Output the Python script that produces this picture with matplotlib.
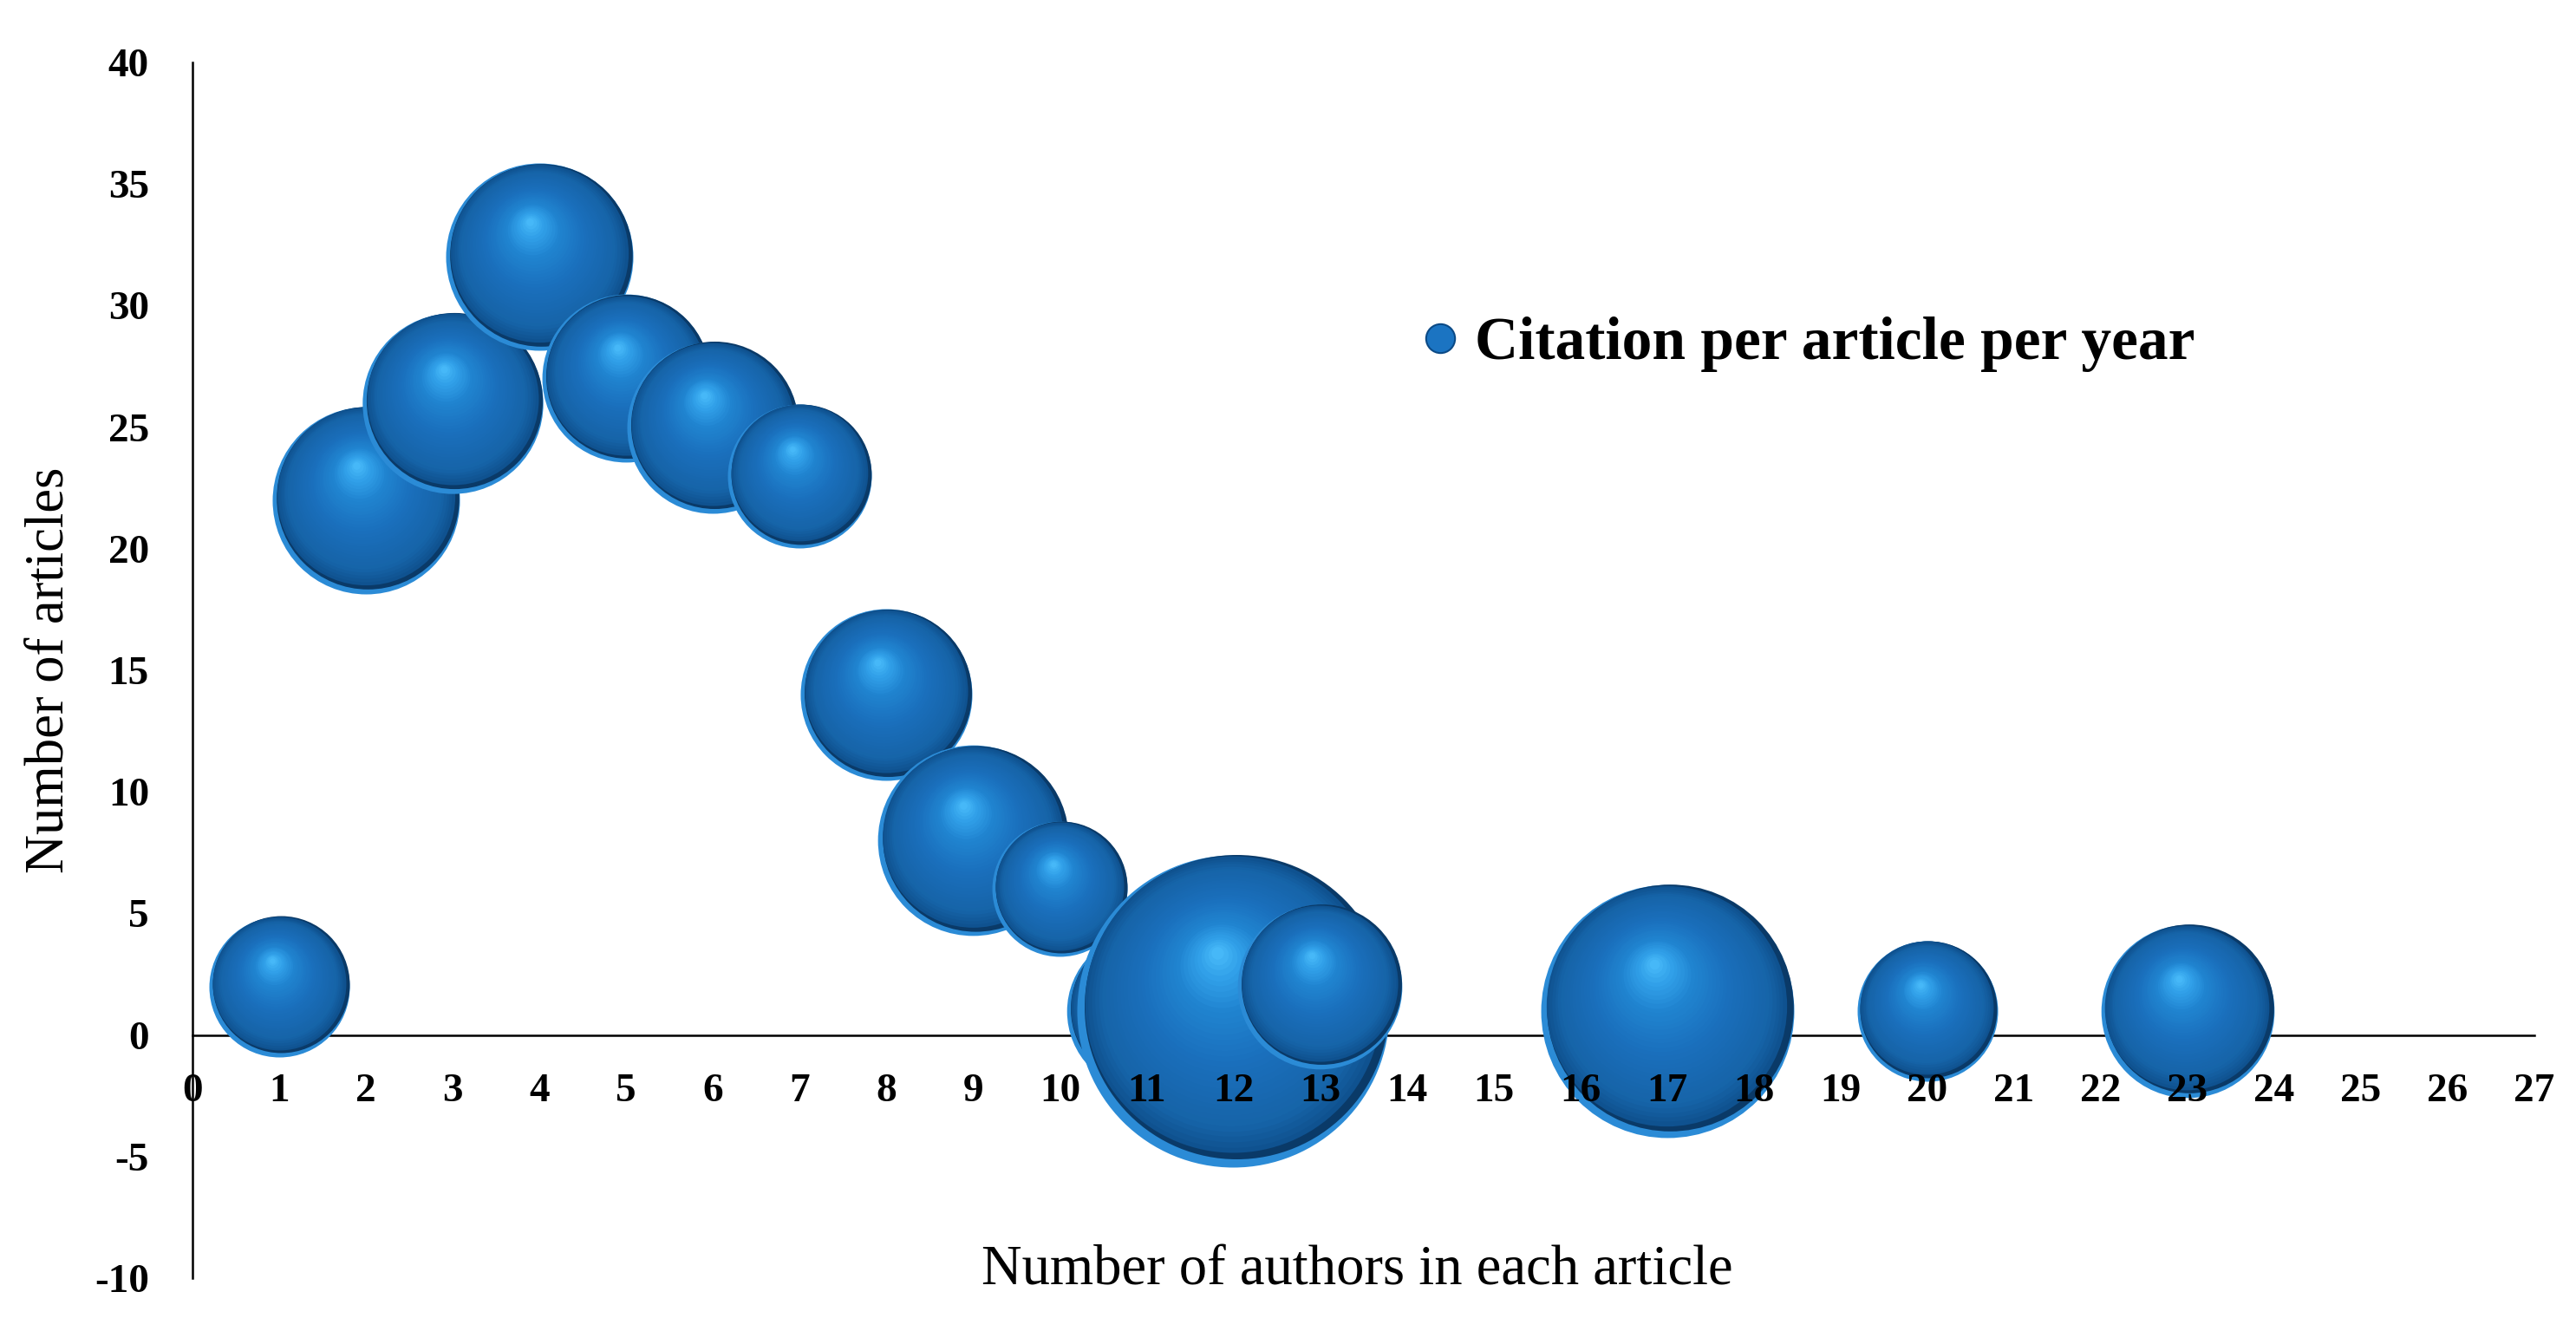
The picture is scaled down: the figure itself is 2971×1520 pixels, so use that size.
import numpy as np
import matplotlib
matplotlib.use("Agg")
import matplotlib.pyplot as plt
from matplotlib.transforms import ScaledTranslation
from matplotlib.lines import Line2D
from matplotlib.colors import LinearSegmentedColormap

# ---------------- data ----------------
authors = [1, 2, 3, 4, 5, 6, 7, 8, 9, 10, 11, 12, 13, 17, 20, 23]
articles = [2, 22, 26, 32, 27, 25, 23, 14, 8, 6, 1, 1, 2, 1, 1, 1]
citations = [8.1, 14.4, 13.4, 14.4, 11.6, 12.1, 8.5, 12.1, 14.9, 7.5,
             10.4, 40.0, 11.1, 26.3, 8.1, 12.3]
x_ticks = list(range(0, 28))
y_ticks = list(range(-10, 41, 5))
series_name = "Citation per article per year"
x_title = "Number of authors in each article"
y_title = "Number of articles"

# ---------------- style ----------------
SERIF = ["Liberation Serif", "DejaVu Serif"]
plt.rcParams["font.family"] = SERIF
DPI = 100
fig = plt.figure(figsize=(29.71, 15.2), dpi=DPI)
ax = fig.add_axes([0.07472, 0.03026, 0.9091, 0.9224])
ax.set_xlim(0, 27)
ax.set_ylim(-10, 40)

R_MAX_PX = 180.0  # pixel radius of the largest bubble

shade = LinearSegmentedColormap.from_list(
    "sphere",
    [(0.0, "#0f5290"), (0.12, "#1664a8"), (0.45, "#1a6fbc"),
     (0.72, "#2084d0"), (0.90, "#32a2ea"), (1.0, "#46b8f8")])


def sphere(x, y, r, z):
    def tr(dx, dy):
        return ax.transData + ScaledTranslation(dx / DPI, dy / DPI,
                                                fig.dpi_scale_trans)

    def size(rad):
        return (2 * rad * 72.0 / DPI) ** 2

    # light reflection rim at the bottom-left
    ax.scatter([x], [y], s=size(r), color="#2b8bd6", linewidths=0,
               transform=tr(0, 0), zorder=z)
    # dark shadow edge (mostly on the right)
    ax.scatter([x], [y], s=size(r * 0.975), color="#0a3a68", linewidths=0,
               transform=tr(r * 0.02, r * 0.025), zorder=z + 0.0001)
    n = 36
    x0, y0, r0 = -0.005 * r, 0.04 * r, 0.95 * r
    hx, hy, hr = -0.10 * r, 0.37 * r, 0.04 * r
    for k in range(n + 1):
        t = k / n
        rad = r0 + (hr - r0) * t
        cx = x0 + (hx - x0) * t
        cy = y0 + (hy - y0) * t
        ax.scatter([x], [y], s=size(rad), color=shade(t),
                   linewidths=0, transform=tr(cx, cy),
                   zorder=z + 0.0001 * (k + 2))


cmax = max(citations)
for i, (xa, ya, c) in enumerate(zip(authors, articles, citations)):
    r = R_MAX_PX * np.sqrt(c / cmax)
    sphere(xa, ya, r, 1.0 + i * 0.05)

# ---------------- axes ----------------
for s in ("top", "right"):
    ax.spines[s].set_visible(False)
ax.spines["bottom"].set_position(("data", 0))
for s in ("bottom", "left"):
    ax.spines[s].set_linewidth(1.8)
    ax.spines[s].set_color("black")
    ax.spines[s].set_zorder(0.5)

ax.set_xticks(x_ticks)
ax.set_xticklabels([str(v) for v in x_ticks])
ax.set_yticks(y_ticks)
ax.set_yticklabels([str(v) for v in y_ticks])
ax.tick_params(axis="x", length=0, pad=32, labelsize=34)
ax.tick_params(axis="y", length=0, pad=36, labelsize=34)
for lab in ax.get_xticklabels() + ax.get_yticklabels():
    lab.set_fontweight("bold")
ax.xaxis.set_zorder(3)
ax.yaxis.set_zorder(3)

ax.set_xlabel(x_title, fontsize=46.5, va="center")
ax.xaxis.set_label_coords(0.4975, 0.006)
ax.set_ylabel(y_title, fontsize=45, va="center")
ax.yaxis.set_label_coords(-0.061, 0.5)

handle = Line2D([], [], linestyle="none", marker="o", markersize=24,
                markerfacecolor="#1b74c2", markeredgecolor="#0b4a86",
                markeredgewidth=1.5)
leg = ax.legend([handle], [series_name], loc="center left",
                bbox_to_anchor=(0.5527, 0.7385),
                bbox_transform=fig.transFigure, frameon=False,
                handlelength=0.55, handletextpad=0.3, borderpad=0,
                borderaxespad=0, prop={"family": SERIF, "weight": "bold",
                                       "size": 50})

fig.savefig("out.png", dpi=DPI)
